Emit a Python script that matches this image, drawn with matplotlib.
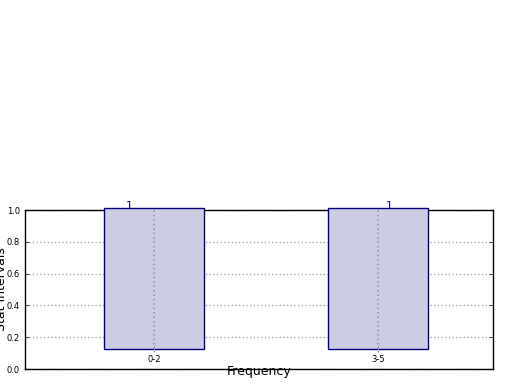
import matplotlib
matplotlib.use("Agg")
import matplotlib.pyplot as plt

# data
categories = ["0-2", "3-5"]
counts = [1, 1]
positions = [0, 1]
label_shift = [-0.11, 0.05]

fig = plt.figure(figsize=(5.2, 3.9), dpi=100)

# outer frame with the y scale and horizontal grid
ax = fig.add_axes([0.048, 0.0538, 0.9, 0.4077])
ax.set_ylim(0, 1)
ax.set_xlim(-0.576, 1.513)
ax.set_yticks([0.0, 0.2, 0.4, 0.6, 0.8, 1.0])
ax.tick_params(axis="y", direction="in", length=3, labelsize=6, right=True,
               colors="#555555", labelcolor="black")
ax.grid(axis="y", linestyle=":", color="#aaaaaa", linewidth=1)
ax.set_ylabel("Stat Intervals", fontsize=9)
ax.yaxis.set_label_coords(-0.036, 0.5)
for s in ax.spines.values():
    s.set_linewidth(1)

# inner axes holding the bars
ax2 = fig.add_axes([0.048, 0.105, 0.9, 0.3615])
ax2.patch.set_visible(False)
for s in ax2.spines.values():
    s.set_visible(False)
ax2.set_xlim(-0.576, 1.513)
ax2.set_ylim(0, 1)
ax2.set_yticks([])
bars = ax2.bar(positions, counts, width=0.45, color="#cccce4", edgecolor="navy",
               linewidth=1, clip_on=False, zorder=1)
ax2.set_xticks(positions)
ax2.set_xticklabels(categories, fontsize=6)
ax2.tick_params(axis="x", direction="inout", length=4, color="#999999", pad=2)
ax2.grid(axis="x", linestyle=":", color="#999999", linewidth=1.2)
ax2.set_xlabel("Frequency", fontsize=9, labelpad=1)
ax.set_xticks([])
for p, c, d in zip(positions, counts, label_shift):
    ax2.text(p + d, c - 0.005, str(c), ha="center", va="baseline", color="navy", fontsize=8)

fig.savefig("out.png", dpi=100)
